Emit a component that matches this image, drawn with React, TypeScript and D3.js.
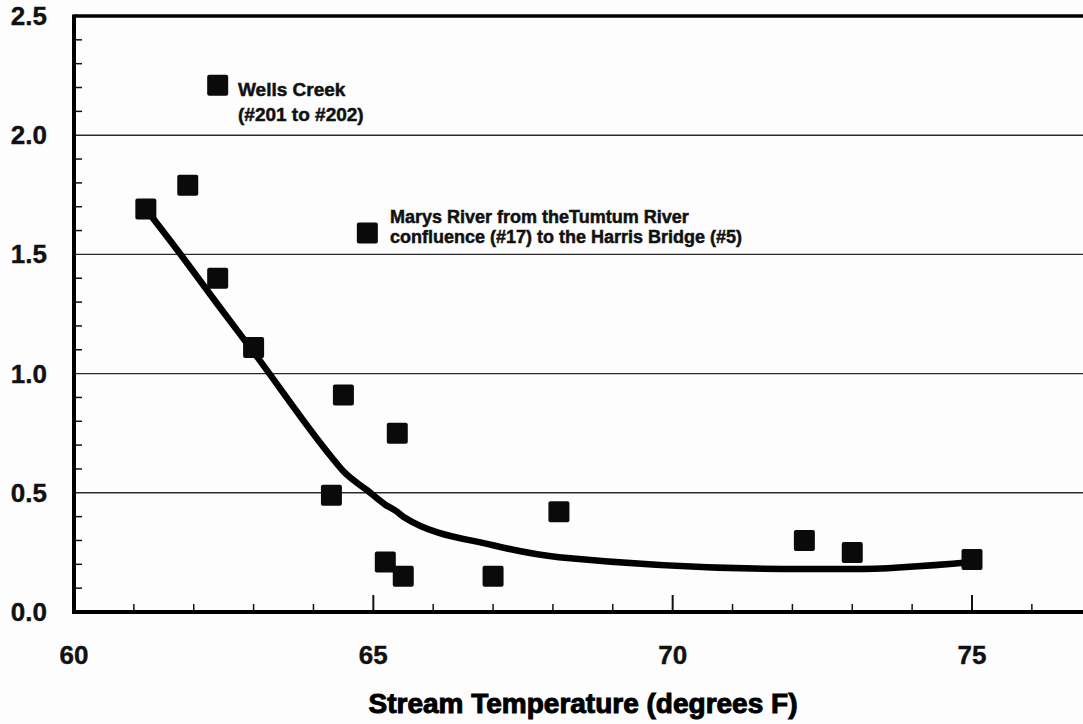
import React, { useEffect, useRef } from 'react';
import * as d3 from 'd3';

// observed points (stream temperature, degrees F) -> y value
const tempF = [61.2, 61.9, 62.4, 62.4, 63.0, 64.9, 64.5, 65.4, 64.3, 65.2, 65.5, 67.0, 68.1, 72.2, 73.0, 75.0];
const yVals = [1.69, 1.79, 2.21, 1.40, 1.11, 1.59, 0.91, 0.75, 0.49, 0.21, 0.15, 0.15, 0.42, 0.30, 0.25, 0.22];

// fitted trend line, evaluated at the sorted temperatures
const fitTemp = [61.2, 61.9, 62.4, 63.0, 64.3, 64.5, 64.9, 65.2, 65.4, 65.5, 67.0, 68.1, 72.2, 73.0, 75.0];
const fitVals = [1.69, 1.46, 1.29, 1.09, 0.65, 0.59, 0.51, 0.45, 0.42, 0.40, 0.28, 0.23, 0.18, 0.18, 0.21];

const yTickLabels = ['0.0', '0.5', '1.0', '1.5', '2.0', '2.5'];
const xTickLabels = ['60', '65', '70', '75'];

const labelWells = ['Wells Creek', '(#201 to #202)'];
const labelMarys = ['Marys River from theTumtum River', 'confluence (#17) to the Harris Bridge (#5)'];

const FONT = 'Liberation Sans, Arial, Helvetica, sans-serif';

function App() {
  const ref = useRef<SVGSVGElement | null>(null);

  useEffect(() => {
    const svg = d3.select(ref.current);
    svg.selectAll('*').remove();

    const x = d3.scaleLinear().domain([60, 75]).range([74, 972]);
    const y = d3.scaleLinear().domain([0, 2.5]).range([612, 16]);
    const xEnd = x(80);

    svg.append('rect').attr('width', 1083).attr('height', 724).attr('fill', '#fdfdfd');

    // gridlines
    svg.append('g')
      .selectAll('line')
      .data([0.5, 1.0, 1.5, 2.0])
      .enter().append('line')
      .attr('x1', x(60)).attr('x2', xEnd)
      .attr('y1', d => y(d)).attr('y2', d => y(d))
      .attr('stroke', '#2a2a2a').attr('stroke-width', 1.4);

    // y minor ticks (inward)
    const yMinor = d3.range(1, 25).filter(i => i % 5 !== 0).map(i => i / 10);
    svg.append('g')
      .selectAll('line')
      .data(yMinor)
      .enter().append('line')
      .attr('x1', x(60)).attr('x2', x(60) + 8)
      .attr('y1', d => y(d)).attr('y2', d => y(d))
      .attr('stroke', '#111').attr('stroke-width', 1.5);

    // x ticks (inward)
    const xTicks = d3.range(61, 80);
    svg.append('g')
      .selectAll('line')
      .data(xTicks)
      .enter().append('line')
      .attr('x1', d => x(d)).attr('x2', d => x(d))
      .attr('y1', y(0))
      .attr('y2', d => y(0) - (d % 5 === 0 ? 17 : 8))
      .attr('stroke', '#111').attr('stroke-width', d => (d % 5 === 0 ? 2 : 1.5));

    // frame
    svg.append('line').attr('x1', x(60)).attr('x2', xEnd).attr('y1', 16).attr('y2', 16)
      .attr('stroke', '#000').attr('stroke-width', 3.5);
    svg.append('line').attr('x1', x(60)).attr('x2', x(60)).attr('y1', 14.5).attr('y2', 614)
      .attr('stroke', '#000').attr('stroke-width', 4);
    svg.append('line').attr('x1', x(60) - 2).attr('x2', xEnd).attr('y1', y(0)).attr('y2', y(0))
      .attr('stroke', '#000').attr('stroke-width', 4);

    // tick labels
    svg.append('g')
      .selectAll('text')
      .data(yTickLabels)
      .enter().append('text')
      .attr('x', 47)
      .attr('y', d => y(+d) + 9)
      .attr('text-anchor', 'end')
      .attr('font-family', FONT).attr('font-size', 26).attr('font-weight', 'bold')
      .attr('fill', '#111').attr('stroke', '#111').attr('stroke-width', 0.4)
      .text(d => d);

    svg.append('g')
      .selectAll('text')
      .data(xTickLabels)
      .enter().append('text')
      .attr('x', d => x(+d))
      .attr('y', 664)
      .attr('text-anchor', 'middle')
      .attr('font-family', FONT).attr('font-size', 26).attr('font-weight', 'bold')
      .attr('fill', '#111').attr('stroke', '#111').attr('stroke-width', 0.4)
      .text(d => d);

    svg.append('text')
      .attr('x', 583).attr('y', 713)
      .attr('text-anchor', 'middle')
      .attr('font-family', FONT).attr('font-size', 28).attr('font-weight', 'bold')
      .attr('fill', '#000').attr('stroke', '#000').attr('stroke-width', 1)
      .text('Stream Temperature (degrees F)');

    // trend line
    const line = d3.line<number>()
      .x((d, i) => x(fitTemp[i]))
      .y(d => y(d))
      .curve(d3.curveMonotoneX);
    svg.append('path')
      .attr('d', line(fitVals))
      .attr('fill', 'none')
      .attr('stroke', '#000')
      .attr('stroke-width', 6.5)
      .attr('stroke-linejoin', 'round');

    // markers
    const s = 21;
    svg.append('g')
      .selectAll('rect')
      .data(yVals)
      .enter().append('rect')
      .attr('x', (d, i) => x(tempF[i]) - s / 2)
      .attr('y', d => y(d) - s / 2)
      .attr('width', s).attr('height', s)
      .attr('rx', 2)
      .attr('fill', '#0a0a0a');

    // annotations
    const wells = svg.append('text')
      .attr('font-family', FONT).attr('font-size', 19).attr('font-weight', 'bold')
      .attr('fill', '#111').attr('stroke', '#111').attr('stroke-width', 0.5);
    wells.append('tspan').attr('x', 238).attr('y', 96).text(labelWells[0]);
    wells.append('tspan').attr('x', 238).attr('y', 121).text(labelWells[1]);

    const marys = svg.append('text')
      .attr('font-family', FONT).attr('font-size', 18).attr('font-weight', 'bold')
      .attr('fill', '#111').attr('stroke', '#111').attr('stroke-width', 0.5);
    marys.append('tspan').attr('x', 390).attr('y', 223).text(labelMarys[0]);
    marys.append('tspan').attr('x', 390).attr('y', 243).text(labelMarys[1]);
  }, []);

  return (
    <svg
      ref={ref}
      width={1083}
      height={724}
      style={{ position: 'absolute', left: 0, top: 0, display: 'block', overflow: 'hidden' }}
    />
  );
}

export default App;
